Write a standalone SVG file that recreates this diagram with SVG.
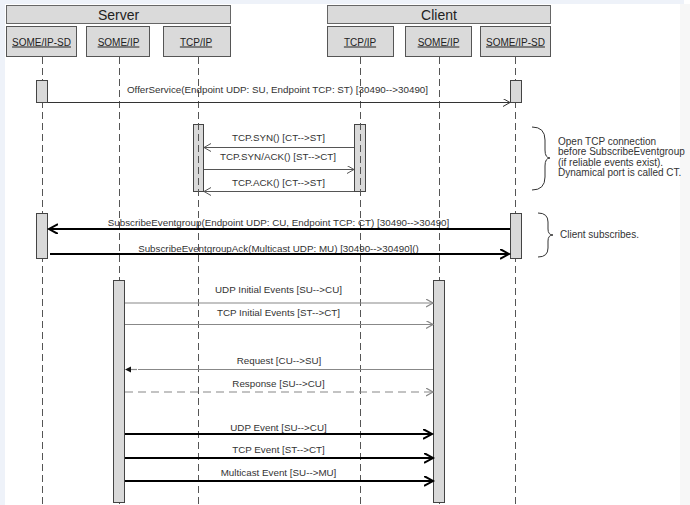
<svg xmlns="http://www.w3.org/2000/svg" width="690" height="505" viewBox="0 0 690 505">
  <style>
    text { font-family: "Liberation Sans", Arial, sans-serif; fill: #222; }
    .hdr { fill: #dadada; stroke: #666; stroke-width: 1; }
    .hdr-t { font-size: 14px; text-anchor: middle; }
    .part { fill: #dadada; stroke: #555; stroke-width: 1; }
    .part-t { font-size: 10px; text-anchor: middle; text-decoration: underline; }
    .life { stroke: #555; stroke-width: 1; stroke-dasharray: 7 4; fill: none; }
    .bar { fill: #d9d9d9; stroke: #444; stroke-width: 1; }
    .msg { font-size: 9.8px; text-anchor: middle; fill: #333; }
    .note { font-size: 10px; fill: #333; }
    .thin { stroke: #333; stroke-width: 1; fill: none; }
    .tcp { stroke: #555; stroke-width: 1; fill: none; }
    .gray { stroke: #888; stroke-width: 1.2; fill: none; }
    .bold { stroke: #000; stroke-width: 2; fill: none; }
    .brace { stroke: #333; stroke-width: 1; fill: none; }
  </style>
  <defs>
    <marker id="headThin" markerUnits="userSpaceOnUse" markerWidth="10" markerHeight="10" refX="7" refY="4" orient="auto">
      <path d="M0,0 L7,4 L0,8" fill="none" stroke="#333" stroke-width="1"/>
    </marker>
    <marker id="headTcp" markerUnits="userSpaceOnUse" markerWidth="10" markerHeight="10" refX="7" refY="4" orient="auto">
      <path d="M0,0 L7,4 L0,8" fill="none" stroke="#555" stroke-width="1"/>
    </marker>
    <marker id="headGray" markerUnits="userSpaceOnUse" markerWidth="10" markerHeight="10" refX="7" refY="4" orient="auto">
      <path d="M0,0 L7,4 L0,8" fill="none" stroke="#888" stroke-width="1.2"/>
    </marker>
    <marker id="headBold" markerUnits="userSpaceOnUse" markerWidth="12" markerHeight="12" refX="9" refY="5" orient="auto">
      <path d="M0,0 L9,5 L0,10" fill="none" stroke="#000" stroke-width="2"/>
    </marker>
  </defs>

  <!-- page frame -->
  <rect x="0" y="0" width="690" height="505" fill="#ffffff"/>
  <rect x="0" y="0" width="684" height="4" fill="#eef2f9"/>
  <rect x="0" y="0" width="5" height="505" fill="#eef2f9"/>
  <rect x="680" y="4" width="10" height="501" fill="#f7f7f7"/>

  <!-- Server / Client headers -->
  <g id="server">
    <rect class="hdr" x="6.5" y="5.5" width="224" height="18"/>
    <text class="hdr-t" x="118.5" y="19.5">Server</text>
  </g>
  <g id="client">
    <rect class="hdr" x="327.5" y="5.5" width="223" height="18"/>
    <text class="hdr-t" x="439" y="19.5">Client</text>
  </g>

  <!-- participants -->
  <g id="server-sd">
    <rect class="part" x="6.5" y="26.5" width="70" height="30"/>
    <text class="part-t" x="41.5" y="45.5">SOME/IP-SD</text>
  </g>
  <g id="server-someip">
    <rect class="part" x="86.5" y="26.5" width="63" height="30"/>
    <text class="part-t" x="118.5" y="45.5">SOME/IP</text>
  </g>
  <g id="server-tcpip">
    <rect class="part" x="163.5" y="26.5" width="67" height="30"/>
    <text class="part-t" x="196" y="45.5">TCP/IP</text>
  </g>
  <g id="client-tcpip">
    <rect class="part" x="327.5" y="26.5" width="66" height="30"/>
    <text class="part-t" x="360" y="45.5">TCP/IP</text>
  </g>
  <g id="client-someip">
    <rect class="part" x="405.5" y="26.5" width="66" height="30"/>
    <text class="part-t" x="438.5" y="45.5">SOME/IP</text>
  </g>
  <g id="client-sd">
    <rect class="part" x="480.5" y="26.5" width="70" height="30"/>
    <text class="part-t" x="515.5" y="45.5">SOME/IP-SD</text>
  </g>

  <!-- TCP/IP activations (lifelines run over them) -->
  <g id="tcp-activations">
    <rect class="bar" x="193.5" y="124.5" width="10" height="67"/>
    <rect class="bar" x="354.5" y="124.5" width="11" height="67"/>
  </g>

  <!-- lifelines -->
  <g id="lifelines">
    <line class="life" x1="42.5" y1="57" x2="42.5" y2="505"/>
    <line class="life" x1="119.5" y1="57" x2="119.5" y2="505"/>
    <line class="life" x1="198.5" y1="57" x2="198.5" y2="505"/>
    <line class="life" x1="360.5" y1="57" x2="360.5" y2="505"/>
    <line class="life" x1="439.5" y1="57" x2="439.5" y2="505"/>
    <line class="life" x1="515.5" y1="57" x2="515.5" y2="505"/>
  </g>

  <!-- remaining activations -->
  <g id="activations">
    <rect class="bar" x="36.5" y="80.5" width="11" height="22"/>
    <rect class="bar" x="510.5" y="80.5" width="11" height="22"/>
    <rect class="bar" x="36.5" y="213.5" width="11" height="45"/>
    <rect class="bar" x="510.5" y="213.5" width="11" height="45"/>
    <rect class="bar" x="113.5" y="280.5" width="11" height="222"/>
    <rect class="bar" x="433.5" y="280.5" width="11" height="222"/>
  </g>

  <!-- messages -->
  <g id="connectors">
    <text class="msg" x="277.5" y="92.5">OfferService(Endpoint UDP: SU, Endpoint TCP: ST) [30490--&gt;30490]</text>
    <line class="thin" x1="48" y1="102.5" x2="510" y2="102.5" marker-end="url(#headThin)"/>

    <text class="msg" x="278.5" y="140.5">TCP.SYN() [CT--&gt;ST]</text>
    <line class="tcp" x1="354" y1="147.5" x2="204" y2="147.5" marker-end="url(#headTcp)"/>
    <text class="msg" x="278" y="159.5">TCP.SYN/ACK() [ST--&gt;CT]</text>
    <line class="tcp" x1="204" y1="169.5" x2="354" y2="169.5" marker-end="url(#headTcp)"/>
    <text class="msg" x="278.5" y="185.5">TCP.ACK() [CT--&gt;ST]</text>
    <line class="tcp" x1="354" y1="191.5" x2="204" y2="191.5" marker-end="url(#headTcp)"/>

    <text class="msg" x="278.5" y="225.5">SubscribeEventgroup(Endpoint UDP: CU, Endpoint TCP: CT) [30490--&gt;30490]</text>
    <line class="bold" x1="510" y1="229" x2="49" y2="229" marker-end="url(#headBold)"/>
    <text class="msg" x="278.5" y="251.5">SubscribeEventgroupAck(Multicast UDP: MU) [30490--&gt;30490]()</text>
    <line class="bold" x1="50" y1="254" x2="509" y2="254" marker-end="url(#headBold)"/>

    <text class="msg" x="278.5" y="292.5">UDP Initial Events [SU--&gt;CU]</text>
    <line class="gray" x1="125" y1="303" x2="433" y2="303" marker-end="url(#headGray)"/>
    <text class="msg" x="278.5" y="315.5">TCP Initial Events [ST--&gt;CT]</text>
    <line class="gray" x1="125" y1="324.5" x2="433" y2="324.5" marker-end="url(#headGray)"/>

    <text class="msg" x="279" y="363.5">Request [CU--&gt;SU]</text>
    <line class="gray" x1="433" y1="369.5" x2="138" y2="369.5"/>
    <line class="gray" x1="137" y1="369.5" x2="131" y2="369.5"/>
    <path d="M125,369.5 L131,366.5 L131,372.5 Z" fill="#111"/>
    <text class="msg" x="278.5" y="386.5">Response [SU--&gt;CU]</text>
    <line class="gray" x1="125" y1="392" x2="433" y2="392" stroke-dasharray="8 5" marker-end="url(#headGray)"/>

    <text class="msg" x="278.5" y="430.5">UDP Event [SU--&gt;CU]</text>
    <line class="bold" x1="125" y1="434" x2="432" y2="434" marker-end="url(#headBold)"/>
    <text class="msg" x="278.5" y="452.5">TCP Event [ST--&gt;CT]</text>
    <line class="bold" x1="125" y1="458" x2="433" y2="458" marker-end="url(#headBold)"/>
    <text class="msg" x="278.5" y="475.5">Multicast Event [SU--&gt;MU]</text>
    <line class="bold" x1="125" y1="481" x2="433" y2="481" marker-end="url(#headBold)"/>
  </g>

  <!-- notes -->
  <g id="note-tcp">
    <path class="brace" d="M532,127 Q545,127 545,140 L545,150 Q545,158 550,158 Q545,158 545,166 L545,177 Q545,190 532,190"/>
    <text class="note" x="558" y="144.5">Open TCP connection</text>
    <text class="note" x="558" y="155">before SubscribeEventgroup</text>
    <text class="note" x="558" y="165.5">(if reliable events exist).</text>
    <text class="note" x="558" y="176">Dynamical port is called CT.</text>
  </g>
  <g id="note-subscribe">
    <path class="brace" d="M538,213 Q548,213 548,222 L548,229 Q548,235 553,235 Q548,235 548,241 L548,248 Q548,257 538,257"/>
    <text class="note" x="560" y="237.5">Client subscribes.</text>
  </g>
</svg>
